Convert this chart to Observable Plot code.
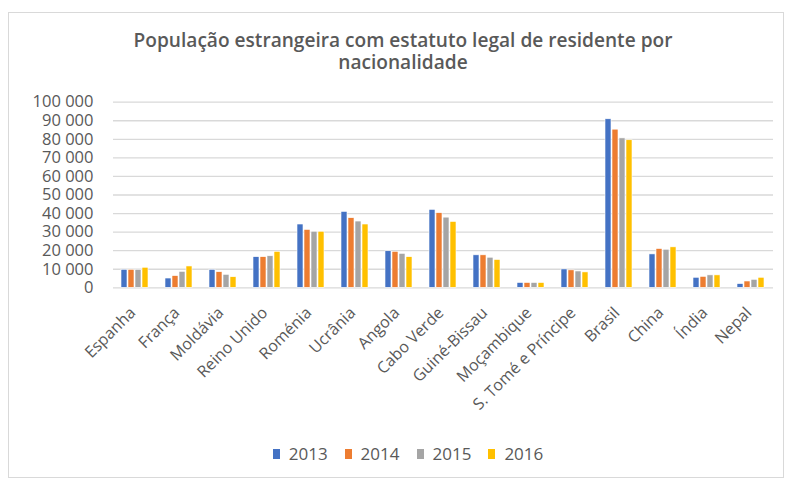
<!DOCTYPE html>
<html>
<head>
<meta charset="utf-8">
<script src="https://cdn.jsdelivr.net/npm/d3@7"></script>
<script src="https://cdn.jsdelivr.net/npm/@observablehq/plot@0.6"></script>
<style>
  html, body { margin: 0; padding: 0; background: #fff; }
  body { width: 788px; height: 479px; position: relative; overflow: hidden; font-family: "Open Sans", sans-serif; }
  #frame { position: absolute; left: 8px; top: 12px; width: 776px; height: 466px; border: 1px solid #d9d9d9; box-sizing: border-box; }
  #title { position: absolute; left: 8px; top: 29px; width: 790px; text-align: center; font-size: 19.1px; font-weight: 600; color: #595959; line-height: 22px; }
  #chart { position: absolute; left: 0; top: 0; }
  #legend { position: absolute; left: 0; top: 442px; width: 816px; display: flex; justify-content: center; gap: 17px; font-size: 17px; color: #595959; }
  #legend span.item { display: flex; align-items: center; }
  #legend span.sw { display: inline-block; width: 7px; height: 10px; margin-right: 9px; }
</style>
</head>
<body>
<div id="frame"></div>
<div id="chart"></div>
<div id="title">População estrangeira com estatuto legal de residente por<br>nacionalidade</div>
<div id="legend"></div>
<script>
const categories = ["Espanha", "França", "Moldávia", "Reino Unido", "Roménia", "Ucrânia", "Angola", "Cabo Verde", "Guiné-Bissau", "Moçambique", "S. Tomé e Príncipe", "Brasil", "China", "Índia", "Nepal"];
const years = ["2013", "2014", "2015", "2016"];
const v2013 = [9700, 5000, 9700, 16500, 34100, 40900, 19700, 42000, 17500, 2600, 9900, 90800, 18000, 5400, 2000];
const v2014 = [9700, 6300, 8400, 16500, 31200, 37500, 19400, 40200, 17500, 2600, 9400, 85200, 20900, 5900, 3400];
const v2015 = [9700, 8600, 7000, 17000, 30200, 35700, 18300, 37800, 16200, 2600, 8800, 80500, 20500, 6700, 4300];
const v2016 = [10800, 11500, 5700, 19400, 30200, 34100, 16500, 35500, 15000, 2600, 8300, 79500, 21800, 6700, 5400];
const yTicks = [0, 10000, 20000, 30000, 40000, 50000, 60000, 70000, 80000, 90000, 100000];
const colors = ["#4472C4", "#ED7D31", "#A5A5A5", "#FFC000"];

const series = [v2013, v2014, v2015, v2016];
const data = [];
categories.forEach((c, i) => years.forEach((y, j) => data.push({country: c, year: y, value: series[j][i]})));

const fmt = d => d3.format(",")(d).replace(/,/g, " ");

const chart = Plot.plot({
  width: 788,
  height: 479,
  marginLeft: 110,
  marginRight: 13,
  marginTop: 101.7,
  marginBottom: 191.7,
  style: {fontFamily: "Open Sans, sans-serif", background: "transparent", overflow: "visible"},
  fx: {domain: categories, padding: 0, label: null, axis: null},
  x: {domain: years, paddingInner: 0.12, paddingOuter: 0.93, axis: null},
  y: {domain: [0, 100000], label: null},
  color: {domain: years, range: colors},
  marks: [
    Plot.gridY(yTicks, {stroke: "#d9d9d9", strokeOpacity: 1, strokeWidth: 1.3}),
    Plot.axisY(yTicks, {tickSize: 0, tickPadding: 20, tickFormat: fmt, fontSize: 16.5, fill: "#595959", label: null}),
    Plot.barY(data, {fx: "country", x: "year", y: "value", fill: "year", stroke: "white", strokeWidth: 0.6}),
    Plot.text(categories, {fx: d => d, text: d => d, frameAnchor: "bottom", rotate: -45, textAnchor: "end", dx: 1, dy: 26, fontSize: 16, fill: "#595959"})
  ]
});
document.getElementById("chart").appendChild(chart);

const legend = document.getElementById("legend");
years.forEach((y, j) => {
  const item = document.createElement("span");
  item.className = "item";
  const sw = document.createElement("span");
  sw.className = "sw";
  sw.style.background = colors[j];
  item.appendChild(sw);
  item.appendChild(document.createTextNode(y));
  legend.appendChild(item);
});
</script>
</body>
</html>
